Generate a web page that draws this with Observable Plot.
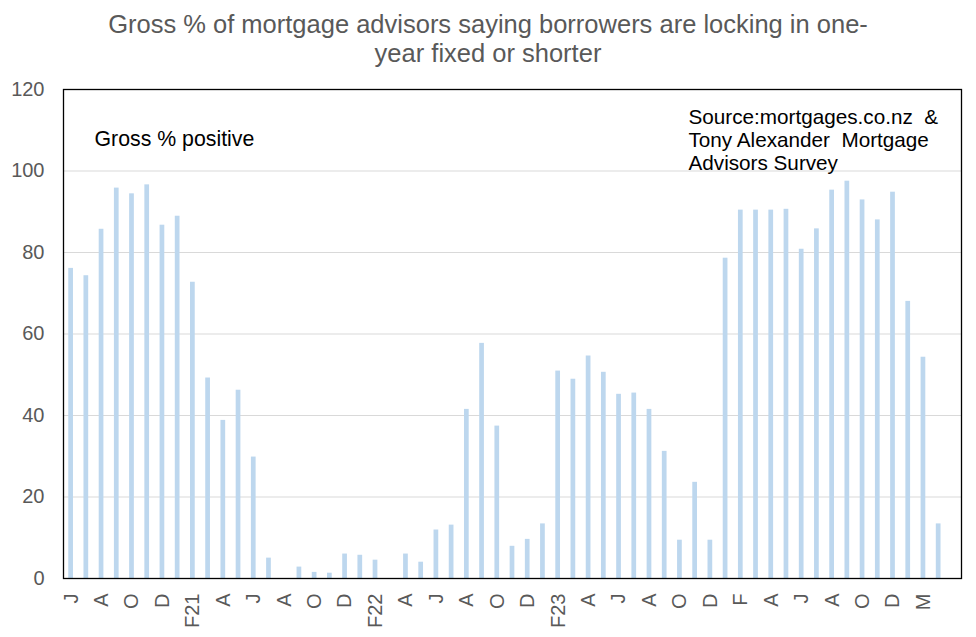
<!DOCTYPE html>
<html>
<head>
<meta charset="utf-8">
<script src="https://cdn.jsdelivr.net/npm/d3@7"></script>
<script src="https://cdn.jsdelivr.net/npm/@observablehq/plot@0.6"></script>
<style>
  html, body { margin: 0; padding: 0; background: #fff; }
  #wrap { width: 976px; height: 637px; overflow: hidden; font-family: "Liberation Sans", Arial, sans-serif; }
  #title { height: 60px; box-sizing: border-box; padding-top: 10px; text-align: center; color: #595959; font-size: 25.5px; line-height: 29px; white-space: nowrap; }
  svg { display: block; }
</style>
</head>
<body>
<div id="wrap">
  <div id="title">Gross % of mortgage advisors saying borrowers are locking in one-<br>year fixed or shorter</div>
  <div id="chart"></div>
</div>
<script>
// Month index (June 2020 onward), tick labels and values
const months = d3.range(59);
const tickLabels = ["J","","A","","O","","D","","F21","","A","","J","","A","","O","","D","","F22","","A","","J","","A","","O","","D","","F23","","A","","J","","A","","O","","D","","F","","A","","J","","A","","O","","D","","M","",""];
const grossPositive = [
  76.1, 74.3, 85.7, 95.8, 94.4, 96.6, 86.7, 88.9, 72.7, 49.2,
  38.8, 46.2, 29.8, 5.0, null, 2.8, 1.5, 1.3, 6.0, 5.7,
  4.5, null, 6.0, 4.0, 11.9, 13.1, 41.5, 57.7, 37.4, 7.9,
  9.6, 13.4, 50.9, 48.9, 54.6, 50.6, 45.2, 45.5, 41.5, 31.2,
  9.4, 23.6, 9.4, 78.6, 90.4, 90.4, 90.4, 90.6, 80.8, 85.8,
  95.3, 97.5, 92.9, 88.0, 94.8, 68.0, 54.3, 13.4, null
];
const yTicks = [0, 20, 40, 60, 80, 100, 120];
const seriesLabel = "Gross % positive";
const sourceLabel = "Source:mortgages.co.nz  &\nTony Alexander  Mortgage\nAdvisors Survey";

const data = months.map((m, i) => ({m, v: grossPositive[i]}));

const chart = Plot.plot({
  width: 976,
  height: 577,
  marginTop: 29,
  marginBottom: 59,
  marginLeft: 63,
  marginRight: 15,
  style: {fontFamily: "'Liberation Sans', Arial, sans-serif", fontSize: "20px", background: "#fff"},
  x: {type: "band", domain: months, paddingInner: 0.69, paddingOuter: 0.345, align: 0.5, round: false},
  y: {domain: [0, 120]},
  marks: [
    Plot.gridY(yTicks, {stroke: "#d9d9d9", strokeOpacity: 1, strokeWidth: 1}),
    Plot.barY(data.filter(d => d.v != null), {x: "m", y: "v", fill: "#BDD7EE"}),
    Plot.axisY(yTicks, {tickSize: 0, tickPadding: 19, fontSize: 20, color: "#595959", label: null}),
    Plot.axisX({tickSize: 0, tickPadding: 15, tickRotate: -90, fontSize: 20, color: "#595959", label: null, tickFormat: i => tickLabels[i]}),
    Plot.frame({stroke: "#000", strokeWidth: 1.3}),
    Plot.text([seriesLabel], {text: d => d, frameAnchor: "top-left", dx: 31, dy: 50, textAnchor: "start", lineAnchor: "middle", fontSize: 21.3, fill: "#000"}),
    Plot.text([sourceLabel], {text: d => d, frameAnchor: "top-left", dx: 625, dy: 50, textAnchor: "start", lineAnchor: "middle", lineHeight: 1.13, fontSize: 20.7, fill: "#000"})
  ]
});
document.getElementById("chart").appendChild(chart);
</script>
</body>
</html>
